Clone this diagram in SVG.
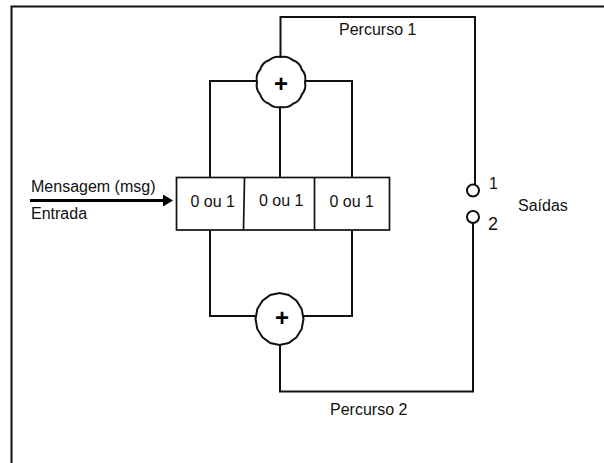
<svg xmlns="http://www.w3.org/2000/svg" width="604" height="463" viewBox="0 0 604 463">
<style>
text{font-family:"Liberation Sans",Arial,sans-serif;font-size:16px;fill:#111}
.w{fill:none;stroke:#111;stroke-width:2}
.n{fill:#fff;stroke:#111;stroke-width:2}
.t{fill:#fff;stroke:#111;stroke-width:1.7}
.p{font-weight:bold;font-size:24px;text-anchor:middle;fill:#000}
</style>
<defs><marker id="a" markerUnits="userSpaceOnUse" markerWidth="10" markerHeight="12" refX="0" refY="6" orient="auto"><path d="M0 0L10 6L0 12Z" fill="#000"/></marker></defs>
<rect width="604" height="463" fill="#fff"/>
<path id="frame" class="w" d="M11.5 463V6.500H604"/>
<g id="connectors">
<path class="w" d="M280.500 57V17H475V185"/>
<path class="w" d="M473 223V391.500H280V345"/>
<path class="w" d="M257 81H210V177"/>
<path class="w" d="M305 81H352V177"/>
<path class="w" d="M280 107V177"/>
<path class="w" d="M210 230V316H255"/>
<path class="w" d="M352 230V316H303"/>
<path d="M30 200.500H163" fill="none" stroke="#000" stroke-width="3" marker-end="url(#a)"/>
</g>
<g id="register">
<rect class="t" x="176.500" y="177.500" width="213" height="52.500"/>
<path class="t" d="M244.500 177.500L243.500 230M314.500 177.500V230"/>
<text x="190.500" y="207">0 ou 1</text>
<text x="259" y="205.500">0 ou 1</text>
<text x="329.500" y="207">0 ou 1</text>
</g>
<g id="adder-top"><path class="n" d="M305 82A14 14 0 0 0 301.800 69.500A14 14 0 0 0 293 60.300A14 14 0 0 0 281 57A14 14 0 0 0 269 60.300A14 14 0 0 0 260.200 69.500A14 14 0 0 0 257 82A14 14 0 0 0 260.200 94.500A14 14 0 0 0 269 103.700A14 14 0 0 0 281 107A14 14 0 0 0 293 103.700A14 14 0 0 0 301.800 94.500A14 14 0 0 0 305 82Z"/><text class="p" x="281" y="92">+</text></g>
<g id="adder-bottom"><polygon class="n" points="303.500,319 301.700,309 296.500,300.600 288.700,295 279.500,293 270.300,295 262.500,300.600 257.300,309 255.500,319 257.300,329 262.500,337.400 270.300,343 279.500,345 288.700,343 296.500,337.400 301.700,329"/><text class="p" x="282" y="326">+</text></g>
<g id="output-1"><ellipse class="w" cx="473" cy="190.500" rx="6" ry="6"/><text x="489" y="189">1</text></g>
<g id="output-2"><ellipse class="w" cx="473" cy="217" rx="6" ry="6"/><text x="488" y="229.500" style="font-size:18px">2</text></g>
<text x="31" y="191.500">Mensagem (msg)</text>
<text x="31" y="218.500">Entrada</text>
<text x="339" y="35">Percurso 1</text>
<text x="330" y="415">Percurso 2</text>
<text x="518" y="211">Saídas</text>
</svg>
